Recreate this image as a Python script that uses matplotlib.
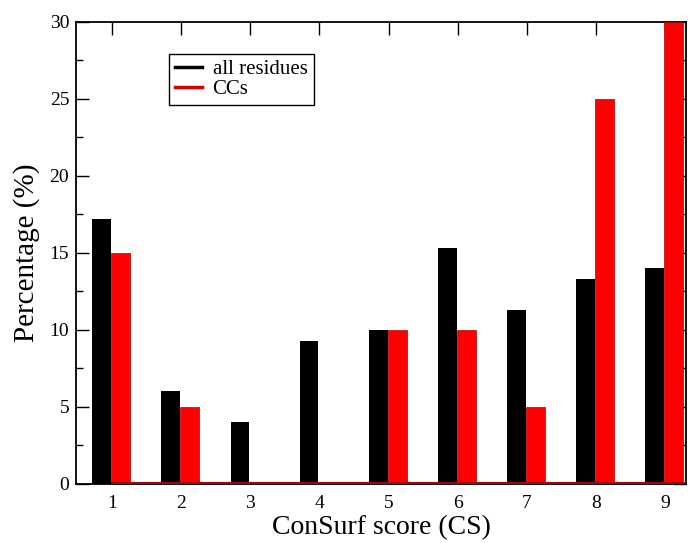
import numpy as np
import matplotlib
matplotlib.use("Agg")
import matplotlib.pyplot as plt
from matplotlib.ticker import MultipleLocator

# ConSurf score bins
scores = [1, 2, 3, 4, 5, 6, 7, 8, 9]
all_residues = [17.2, 6.0, 4.0, 9.3, 10.0, 15.3, 11.3, 13.3, 14.0]
ccs = [15.0, 5.0, 0.0, 0.0, 10.0, 10.0, 5.0, 25.0, 30.0]

plt.rcParams['font.family'] = ['Liberation Serif', 'DejaVu Serif']

fig = plt.figure(figsize=(6.92, 5.43), dpi=100)
ax = fig.add_axes([0.110, 0.109, 0.881, 0.851])

x = np.array(scores, dtype=float)
w = 0.27
ax.bar(x - 0.15, all_residues, width=w, color='black', zorder=2)
ax.bar(x + 0.125, ccs, width=w, color='#ff0000', edgecolor='#b00000',
       linewidth=0.5, zorder=3)
# red baseline where the CCs set sits on zero
ax.hlines(0, x[0] + 0.125 - w / 2, 9.32, color='#9a0a0a', lw=3, zorder=4)

ax.set_xlim(0.48, 9.3)
ax.set_ylim(0, 30)
ax.xaxis.set_major_locator(MultipleLocator(1))
ax.yaxis.set_major_locator(MultipleLocator(5))
ax.yaxis.set_minor_locator(MultipleLocator(2.5))
ax.tick_params(which='both', direction='in', top=True, right=True,
               labelsize=14, width=1, pad=5)
ax.tick_params(axis='x', which='both', bottom=False)
ax.tick_params(axis='x', pad=8)
ax.tick_params(which='major', length=9)
ax.tick_params(which='minor', length=5)
for sp in ax.spines.values():
    sp.set_linewidth(1.3)

ax.set_xlabel('ConSurf score (CS)', fontsize=20, labelpad=2)
ax.set_ylabel('Percentage (%)', fontsize=21, labelpad=7)

handles = [plt.Line2D([], [], color='black', lw=2.5),
           plt.Line2D([], [], color='#d00000', lw=2.5)]
leg = ax.legend(handles, ['all residues', 'CCs'], loc='upper left',
                bbox_to_anchor=(0.152, 0.931), borderaxespad=0,
                fontsize=15, fancybox=False, framealpha=1,
                edgecolor='black', handlelength=1.3, handletextpad=0.5,
                labelspacing=0.0, borderpad=0.3)
leg.get_frame().set_linewidth(1)

fig.savefig('out.png', dpi=100, facecolor='white')
